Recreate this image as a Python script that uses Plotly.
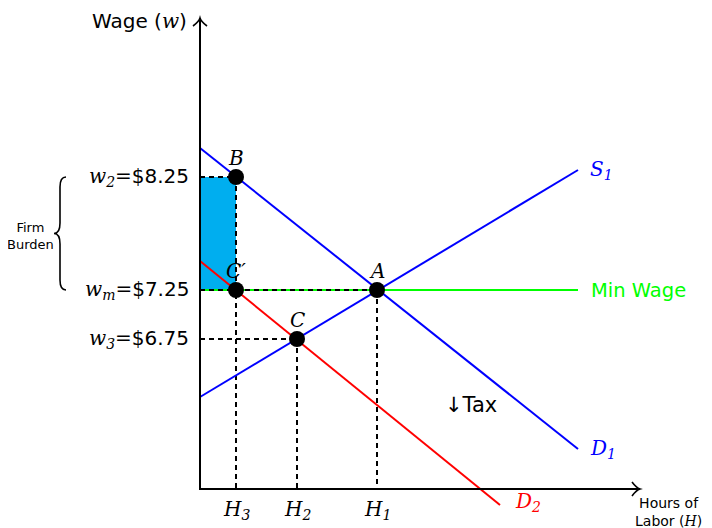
import plotly.graph_objects as go

# ---- data (schematic units) ----
S1_x = [0.0, 37.8]
S1_y = [9.2, 31.9]
D1_x = [0.0, 37.8]
D1_y = [34.1, 4.0]
D2_x = [0.0, 30.0]
D2_y = [22.8, -1.6]
minwage_x = [0.0, 37.8]
minwage_y = [19.9, 19.9]

point_names = ["B", "C′", "A", "C"]
point_x = [3.6, 3.6, 17.7, 9.7]
point_y = [31.2, 19.9, 19.9, 15.0]

wage_levels = [31.2, 19.9, 15.0]
wage_syms = ["w<sub>2</sub>", "w<sub>m</sub>", "w<sub>3</sub>"]
wage_vals = ["$8.25", "$7.25", "$6.75"]

h_levels = [3.6, 9.7, 17.7]
h_labels = ["H<sub>3</sub>", "H<sub>2</sub>", "H<sub>1</sub>"]

x_axis_end = 44.0
y_axis_end = 47.1

SERIF = "DejaVu Serif"
SANS = "DejaVu Sans"

fig = go.Figure()

# firm burden rectangle
fig.add_shape(type="rect", x0=0, x1=point_x[0], y0=point_y[1], y1=point_y[0],
              fillcolor="#00AEEF", line=dict(width=0), layer="below")

dash = "5px,4px"
fig.add_trace(go.Scatter(x=minwage_x, y=minwage_y, mode="lines",
                         line=dict(color="#00FF00", width=2), hoverinfo="skip"))
guides = [
    ([0, point_x[0]], [point_y[0], point_y[0]]),
    ([point_x[0], point_x[0]], [point_y[0], 0]),
    ([0, point_x[2]], [point_y[2], point_y[2]]),
    ([point_x[2], point_x[2]], [point_y[2], 0]),
    ([0, point_x[3]], [point_y[3], point_y[3]]),
    ([point_x[3], point_x[3]], [point_y[3], 0]),
]
for gx, gy in guides:
    fig.add_trace(go.Scatter(x=gx, y=gy, mode="lines",
                             line=dict(color="black", width=2, dash=dash), hoverinfo="skip"))

fig.add_trace(go.Scatter(x=S1_x, y=S1_y, mode="lines", line=dict(color="#0000FF", width=2)))
fig.add_trace(go.Scatter(x=D1_x, y=D1_y, mode="lines", line=dict(color="#0000FF", width=2)))
fig.add_trace(go.Scatter(x=D2_x, y=D2_y, mode="lines", line=dict(color="#FF0000", width=2)))

# axes
fig.add_trace(go.Scatter(x=[0, 0, x_axis_end], y=[y_axis_end, 0, 0], mode="lines",
                         line=dict(color="black", width=2), hoverinfo="skip"))
fig.add_shape(type="path", xref="x", yref="y",
              path=f"M -0.7,{y_axis_end-0.8} Q -0.1,{y_axis_end-0.35} 0,{y_axis_end} "
                   f"Q 0.1,{y_axis_end-0.35} 0.7,{y_axis_end-0.8}",
              line=dict(color="black", width=1.6))
fig.add_shape(type="path", xref="x", yref="y",
              path=f"M {x_axis_end-0.8},0.7 Q {x_axis_end-0.35},0.1 {x_axis_end},0 "
                   f"Q {x_axis_end-0.35},-0.1 {x_axis_end-0.8},-0.7",
              line=dict(color="black", width=1.6))

fig.add_trace(go.Scatter(x=point_x, y=point_y, mode="markers",
                         marker=dict(color="black", size=16), hoverinfo="skip"))

ann = []
def add(text, x, y, size=18, color="black", family=SANS, xa="center", ya="middle"):
    ann.append(dict(text=text, x=x, y=y, xref="x", yref="y", showarrow=False,
                    font=dict(size=size, color=color, family=family),
                    xanchor=xa, yanchor=ya))

def serif_i(t):
    return f"<span style='font-family:{SERIF};font-style:italic'>{t}</span>"

def serif(t):
    return f"<span style='font-family:{SERIF}'>{t}</span>"

for name, px_, py_ in zip(point_names, point_x, point_y):
    add(serif_i(name), px_, py_ + 0.5, size=20, family=SERIF, ya="bottom")

for lvl, sym, val in zip(wage_levels, wage_syms, wage_vals):
    add(serif_i(sym) + serif("=") + val, -0.9, lvl, size=20, xa="right")

for lvl, lab in zip(h_levels, h_labels):
    add(serif_i(lab), lvl, -2.1, size=20, family=SERIF)

add("Wage (" + serif_i("w") + ")", -1.1, y_axis_end - 0.3, size=20, xa="right")
add(serif_i("S<sub>1</sub>"), S1_x[1] + 1.0, S1_y[1], size=20, color="#0000FF", family=SERIF, xa="left")
add(serif_i("D<sub>1</sub>"), D1_x[1] + 1.0, D1_y[1], size=20, color="#0000FF", family=SERIF, xa="left")
add(serif_i("D<sub>2</sub>"), D2_x[1] + 1.3, D2_y[1] + 0.3, size=20, color="#FF0000", family=SERIF, xa="left")
add("Min Wage", minwage_x[1] + 1.1, minwage_y[1], size=19.5, color="#00FF00", xa="left")
add("↓Tax", 27.1, 8.4, size=21)
add("Hours of<br>Labor (" + serif_i("H") + ")", 46.8, -2.3, size=14)
add("Firm<br>Burden", -17.0, 25.3, size=13)

fig.add_shape(type="path", xref="x", yref="y",
              path="M -13.4,31.2 Q -14,31.2 -14,30.2 L -14,26.6 Q -14,25.55 -14.6,25.55 "
                   "Q -14,25.55 -14,24.5 L -14,20.9 Q -14,19.9 -13.4,19.9",
              line=dict(color="black", width=1.6))

# page body has an 8px margin: shift ranges so the drawing lands where the reference has it
fig.update_layout(
    width=712, height=528, margin=dict(l=0, r=0, t=0, b=0),
    paper_bgcolor="white", plot_bgcolor="white", showlegend=False,
    annotations=ann,
    xaxis=dict(range=[-19.2, 52.0], visible=False, fixedrange=True),
    yaxis=dict(range=[-4.7, 48.1], visible=False, fixedrange=True),
)
fig.write_html("out.html")
